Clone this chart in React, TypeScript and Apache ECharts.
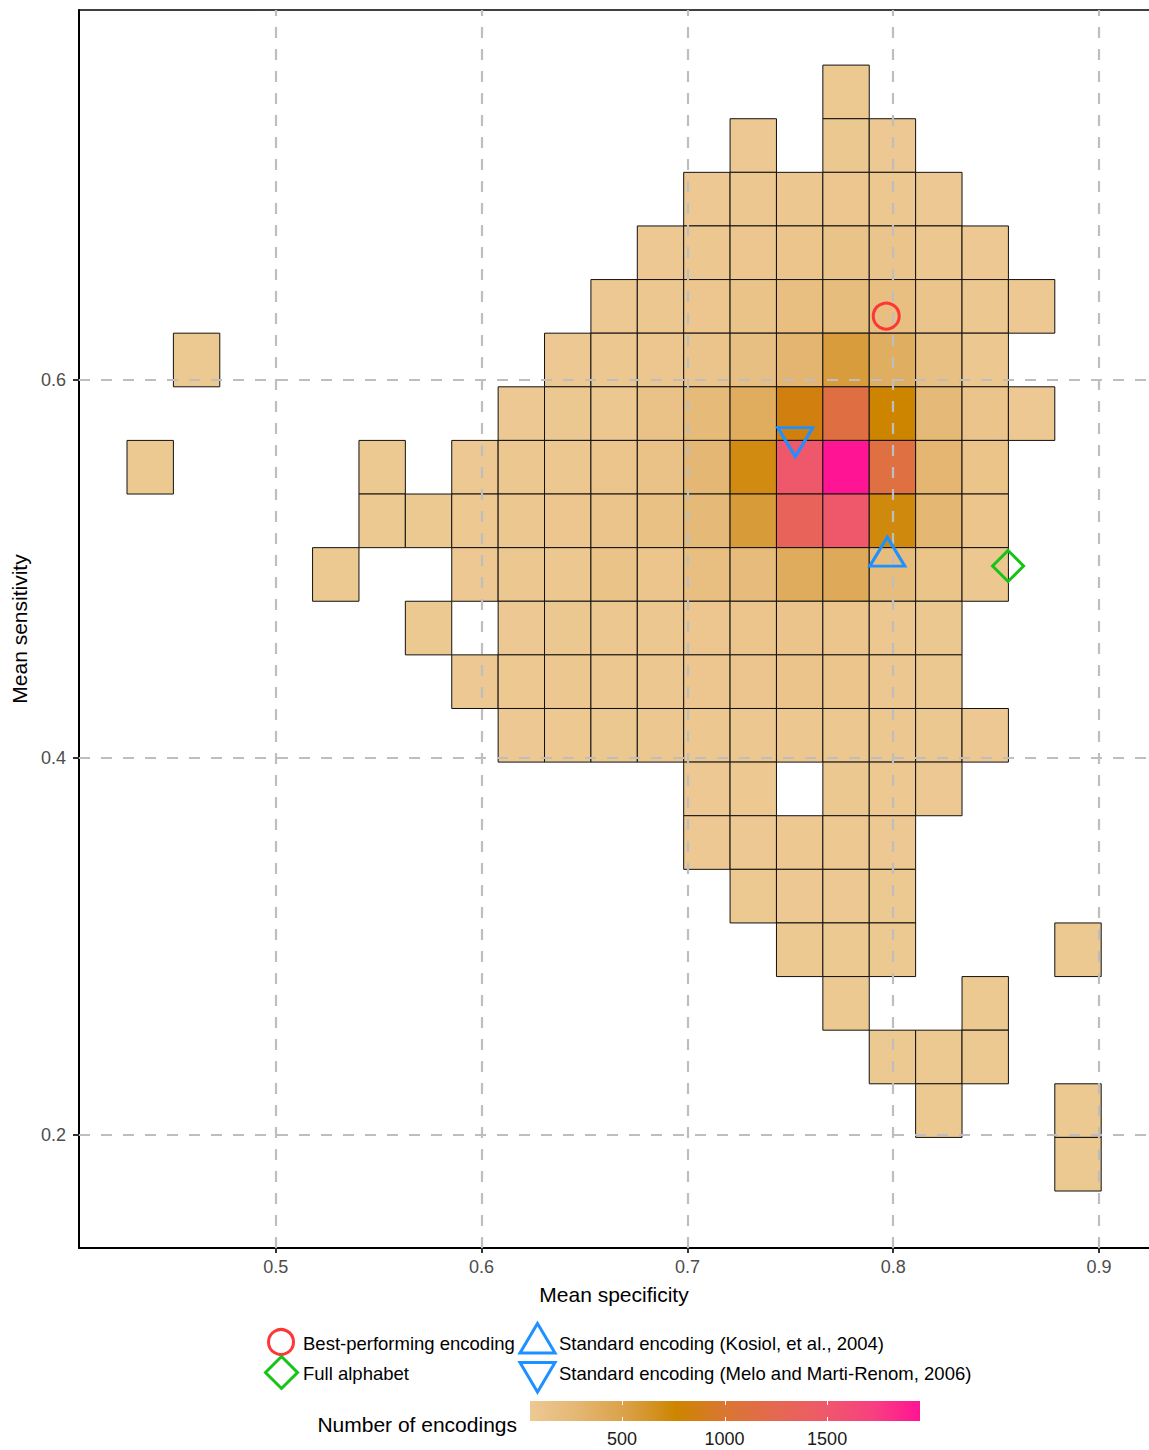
import React, { useEffect, useRef } from "react";
import * as echarts from "echarts";

// ---- Binning (data space) ----
const xBinStart = 0.4277; // left edge of first column bin
const xBinWidth = 0.02254;
const yBinTop = 0.7669; // top edge of first (top) row bin
const yBinHeight = 0.02841;

// Counts per bin: rows from top to bottom, 21 columns each (0 = empty bin)
const binCounts: number[][] = [
  [0, 0, 0, 0, 0, 0, 0, 0, 0, 0, 0, 0, 0, 0, 0, 55, 0, 0, 0, 0, 0],
  [0, 0, 0, 0, 0, 0, 0, 0, 0, 0, 0, 0, 0, 60, 0, 65, 58, 0, 0, 0, 0],
  [0, 0, 0, 0, 0, 0, 0, 0, 0, 0, 0, 0, 60, 70, 75, 90, 80, 60, 0, 0, 0],
  [0, 0, 0, 0, 0, 0, 0, 0, 0, 0, 0, 58, 70, 85, 100, 120, 110, 80, 60, 0, 0],
  [0, 0, 0, 0, 0, 0, 0, 0, 0, 0, 60, 70, 90, 120, 180, 200, 180, 110, 80, 58, 0],
  [0, 55, 0, 0, 0, 0, 0, 0, 0, 60, 70, 85, 110, 170, 300, 560, 380, 160, 80, 0, 0],
  [0, 0, 0, 0, 0, 0, 0, 0, 58, 65, 80, 140, 230, 390, 840, 1140, 765, 250, 110, 60, 0],
  [55, 0, 0, 0, 0, 55, 0, 60, 70, 80, 100, 140, 270, 710, 1500, 1953, 1120, 290, 115, 0, 0],
  [0, 0, 0, 0, 0, 55, 55, 62, 75, 90, 110, 150, 250, 570, 1330, 1500, 720, 280, 105, 0, 0],
  [0, 0, 0, 0, 55, 0, 0, 60, 70, 80, 120, 100, 180, 220, 410, 420, 200, 115, 70, 0, 0],
  [0, 0, 0, 0, 0, 0, 55, 0, 60, 65, 75, 80, 90, 100, 110, 100, 80, 65, 0, 0, 0],
  [0, 0, 0, 0, 0, 0, 0, 58, 62, 70, 75, 80, 85, 95, 110, 105, 80, 65, 0, 0, 0],
  [0, 0, 0, 0, 0, 0, 0, 0, 58, 62, 65, 70, 72, 75, 80, 80, 75, 65, 58, 0, 0],
  [0, 0, 0, 0, 0, 0, 0, 0, 0, 0, 0, 0, 60, 62, 0, 65, 62, 58, 0, 0, 0],
  [0, 0, 0, 0, 0, 0, 0, 0, 0, 0, 0, 0, 58, 60, 62, 62, 58, 0, 0, 0, 0],
  [0, 0, 0, 0, 0, 0, 0, 0, 0, 0, 0, 0, 0, 56, 58, 58, 56, 0, 0, 0, 0],
  [0, 0, 0, 0, 0, 0, 0, 0, 0, 0, 0, 0, 0, 0, 55, 56, 55, 0, 0, 0, 55],
  [0, 0, 0, 0, 0, 0, 0, 0, 0, 0, 0, 0, 0, 0, 0, 55, 0, 0, 55, 0, 0],
  [0, 0, 0, 0, 0, 0, 0, 0, 0, 0, 0, 0, 0, 0, 0, 0, 55, 55, 55, 0, 0],
  [0, 0, 0, 0, 0, 0, 0, 0, 0, 0, 0, 0, 0, 0, 0, 0, 0, 55, 0, 0, 55],
  [0, 0, 0, 0, 0, 0, 0, 0, 0, 0, 0, 0, 0, 0, 0, 0, 0, 0, 0, 0, 55],
];

// ---- Reference encodings (specificity, sensitivity) ----
const bestPerforming = [0.7966, 0.6339];
const fullAlphabet = [0.8558, 0.5015];
const kosiol2004 = [0.7971, 0.5064];
const meloMartiRenom2006 = [0.7524, 0.5698];

// ---- Axes ----
const xTicks = [0.5, 0.6, 0.7, 0.8, 0.9];
const yTicks = [0.2, 0.4, 0.6];
const xRange = [0.40437, 0.92427];
const yRange = [0.1401, 0.7961];

// ---- Fill scale ----
const countRange = [51, 1953];
const colorbarTicks = [500, 1000, 1500];
const fillStops = [
  "#EDC993",
  "#E4B672",
  "#DAA046",
  "#CD8500",
  "#DA7632",
  "#E46950",
  "#EE5A69",
  "#F74180",
  "#FF1493",
];

const FONT = "'Liberation Sans', Arial, Helvetica, sans-serif";
const RED = "#FF3636";
const BLUE = "#1E90FF";
const GREEN = "#16C416";

export default function App() {
  const ref = useRef<HTMLDivElement>(null);

  useEffect(() => {
    if (!ref.current) return;
    const chart = echarts.init(ref.current, null, { renderer: "svg" });

    const tileData: number[][] = [];
    binCounts.forEach((row, r) =>
      row.forEach((count, c) => {
        if (count > 0) {
          tileData.push([
            xBinStart + c * xBinWidth,
            yBinTop - (r + 1) * yBinHeight,
            count,
          ]);
        }
      })
    );

    // colorbar geometry (legend)
    const cbLeft = 530;
    const cbTop = 1401;
    const cbW = 390;
    const cbH = 20;
    const cbX = (v: number) =>
      cbLeft + ((v - countRange[0]) / (countRange[1] - countRange[0])) * cbW;

    const legendText = (x: number, y: number, text: string) => ({
      type: "text",
      x,
      y,
      style: {
        text,
        font: `18.5px ${FONT}`,
        fill: "#000",
        textAlign: "left",
        textVerticalAlign: "middle",
      },
    });

    const graphics: any[] = [
      // legend keys
      {
        type: "circle",
        shape: { cx: 281, cy: 1342, r: 12.5 },
        style: { fill: "none", stroke: RED, lineWidth: 3 },
      },
      {
        type: "polygon",
        shape: {
          points: [
            [281.5, 1356.5],
            [297.5, 1372.5],
            [281.5, 1388.5],
            [265.5, 1372.5],
          ],
        },
        style: { fill: "none", stroke: GREEN, lineWidth: 3 },
      },
      {
        type: "polygon",
        shape: {
          points: [
            [537.5, 1323.5],
            [555, 1353],
            [520, 1353],
          ],
        },
        style: { fill: "none", stroke: BLUE, lineWidth: 3 },
      },
      {
        type: "polygon",
        shape: {
          points: [
            [520, 1362.5],
            [555, 1362.5],
            [537.5, 1392],
          ],
        },
        style: { fill: "none", stroke: BLUE, lineWidth: 3 },
      },
      legendText(303, 1343, "Best-performing encoding"),
      legendText(303, 1373, "Full alphabet"),
      legendText(559, 1343, "Standard encoding (Kosiol, et al., 2004)"),
      legendText(559, 1373, "Standard encoding (Melo and Marti-Renom, 2006)"),
      {
        type: "text",
        x: 517,
        y: 1424,
        style: {
          text: "Number of encodings",
          font: `21px ${FONT}`,
          fill: "#000",
          textAlign: "right",
          textVerticalAlign: "middle",
        },
      },
      {
        type: "rect",
        shape: { x: cbLeft, y: cbTop, width: cbW, height: cbH },
        style: {
          fill: new echarts.graphic.LinearGradient(
            0,
            0,
            1,
            0,
            fillStops.map((c, i) => ({ offset: i / (fillStops.length - 1), color: c }))
          ),
        },
      },
    ];
    colorbarTicks.forEach((v) => {
      const x = Math.round(cbX(v)) + 0.5;
      graphics.push(
        {
          type: "line",
          shape: { x1: x, y1: cbTop, x2: x, y2: cbTop + 4 },
          style: { stroke: "#fff", lineWidth: 1 },
        },
        {
          type: "line",
          shape: { x1: x, y1: cbTop + cbH - 4, x2: x, y2: cbTop + cbH },
          style: { stroke: "#fff", lineWidth: 1 },
        },
        {
          type: "text",
          x: cbX(v),
          y: 1439,
          style: {
            text: String(v),
            font: `18px ${FONT}`,
            fill: "#1A1A1A",
            textAlign: "center",
            textVerticalAlign: "middle",
          },
        }
      );
    });

    const markerSeries = (
      name: string,
      point: number[],
      symbol: string,
      size: number | number[],
      color: string,
      offset: number[] = [0, 0]
    ) => ({
      name,
      type: "scatter",
      z: 5,
      data: [point],
      symbol,
      symbolSize: size,
      symbolOffset: offset,
      symbolKeepAspect: false,
      itemStyle: {
        color: "rgba(0,0,0,0)",
        borderColor: color,
        borderWidth: 3,
        opacity: 1,
      },
      emphasis: { disabled: true },
      silent: true,
    });

    const option: any = {
      animation: false,
      backgroundColor: "#fff",
      textStyle: { fontFamily: FONT },
      grid: {
        left: 79,
        top: 10,
        right: 0,
        bottom: 202,
        show: false,
      },
      xAxis: [
        {
          type: "value",
          min: xRange[0],
          max: xRange[1],
          name: "Mean specificity",
          nameLocation: "middle",
          nameGap: 36,
          nameTextStyle: { fontSize: 21, color: "#000", fontFamily: FONT },
          axisLine: { show: true, onZero: false, lineStyle: { color: "#000", width: 2 } },
          axisTick: {
            show: true,
            length: 5,
            customValues: xTicks,
            lineStyle: { color: "#333", width: 2 },
          },
          axisLabel: {
            customValues: xTicks,
            margin: 10,
            fontSize: 18,
            color: "#4D4D4D",
            fontFamily: FONT,
            formatter: (v: number) => v.toFixed(1),
          },
          splitLine: { show: false },
        },
        {
          // top panel border
          type: "value",
          position: "top",
          min: xRange[0],
          max: xRange[1],
          axisLine: { show: true, onZero: false, lineStyle: { color: "#000", width: 1.5 } },
          axisTick: { show: false },
          axisLabel: { show: false },
          splitLine: { show: false },
        },
      ],
      yAxis: {
        type: "value",
        min: yRange[0],
        max: yRange[1],
        name: "Mean sensitivity",
        nameLocation: "middle",
        nameGap: 48,
        nameTextStyle: { fontSize: 21, color: "#000", fontFamily: FONT },
        axisLine: { show: true, onZero: false, lineStyle: { color: "#000", width: 2 } },
        axisTick: {
          show: true,
          length: 6,
          customValues: yTicks,
          lineStyle: { color: "#333", width: 2 },
        },
        axisLabel: {
          customValues: yTicks,
          margin: 13,
          fontSize: 18,
          color: "#4D4D4D",
          fontFamily: FONT,
          formatter: (v: number) => v.toFixed(1),
        },
        splitLine: { show: false },
      },
      visualMap: {
        type: "continuous",
        show: false,
        min: countRange[0],
        max: countRange[1],
        dimension: 2,
        seriesIndex: 1,
        inRange: { color: fillStops },
      },
      series: [
        {
          name: "grid",
          type: "scatter",
          z: 1,
          data: [],
          silent: true,
          markLine: {
            silent: true,
            animation: false,
            symbol: ["none", "none"],
            label: { show: false },
            emphasis: { disabled: true },
            lineStyle: { color: "#BEBEBE", width: 2.2, type: [11, 11] },
            data: [
              ...xTicks.map((v) => ({ xAxis: v })),
              ...yTicks.map((v) => ({ yAxis: v })),
            ],
          },
        },
        {
          name: "Number of encodings",
          type: "custom",
          z: 2,
          coordinateSystem: "cartesian2d",
          encode: { x: 0, y: 1 },
          data: tileData,
          silent: true,
          renderItem: (params: any, api: any) => {
            const x0 = api.value(0);
            const y0 = api.value(1);
            const p0 = api.coord([x0, y0 + yBinHeight]);
            const p1 = api.coord([x0 + xBinWidth, y0]);
            return {
              type: "rect",
              shape: {
                x: p0[0],
                y: p0[1],
                width: p1[0] - p0[0],
                height: p1[1] - p0[1],
              },
              style: {
                fill: api.visual("color"),
                stroke: "#111",
                lineWidth: 1,
              },
            };
          },
        },
        markerSeries("Best-performing encoding", bestPerforming, "circle", 26, RED),
        markerSeries(
          "Standard encoding (Kosiol, et al., 2004)",
          kosiol2004,
          "triangle",
          [35, 29],
          BLUE,
          [0, -5]
        ),
        markerSeries(
          "Standard encoding (Melo and Marti-Renom, 2006)",
          meloMartiRenom2006,
          "path://M0,0L2,0L1,1.7Z",
          [35, 29],
          BLUE,
          [0, 5]
        ),
        markerSeries("Full alphabet", fullAlphabet, "diamond", [31, 31], GREEN),
      ],
      graphic: graphics,
    };

    chart.setOption(option);
    return () => chart.dispose();
  }, []);

  return (
    <div
      ref={ref}
      style={{ position: "absolute", left: 0, top: 0, width: 1149, height: 1450, background: "#fff" }}
    />
  );
}
